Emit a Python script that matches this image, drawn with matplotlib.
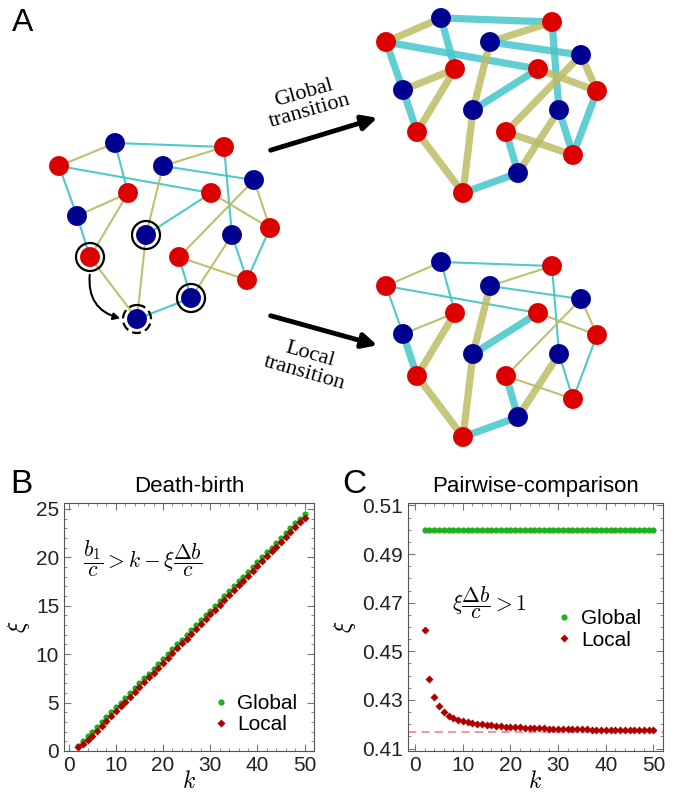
import numpy as np
import matplotlib.pyplot as plt
from matplotlib.patches import Circle, FancyArrowPatch

plt.rcParams['font.family'] = ['Liberation Sans', 'DejaVu Sans']
plt.rcParams['mathtext.fontset'] = 'cm'

# ---- panel A : network (pixel coordinates) ----
left_x = [115, 224, 59, 163, 254, 128, 211, 77, 270, 146, 232, 90, 179, 247, 191, 137]
left_y = [143, 147, 166, 166, 180, 193, 193, 216, 228, 235, 235, 257, 257, 280, 298, 319]
left_type = ['B', 'R', 'R', 'B', 'B', 'R', 'R', 'B', 'R', 'B', 'B', 'R', 'R', 'R', 'B', 'B']

right_x = [441, 552, 386, 490, 581, 455, 538, 403, 597, 473, 559, 417, 506, 573, 518, 463]
right_y = [18, 22, 42, 42, 55, 69, 69, 90, 91, 110, 110, 132, 132, 155, 173, 193]
right_type = ['B', 'R', 'R', 'B', 'B', 'R', 'R', 'B', 'R', 'B', 'B', 'R', 'R', 'R', 'B', 'R']
local_shift = 244

edges = [(2, 0), (0, 1), (1, 3), (2, 6), (3, 4), (0, 5), (2, 7), (7, 5), (7, 11),
         (5, 11), (3, 9), (9, 6), (1, 10), (6, 8), (4, 8), (4, 12), (10, 13), (8, 13),
         (12, 13), (12, 14), (10, 14), (14, 15), (11, 15), (9, 15)]
edge_kind = ['Y', 'C', 'Y', 'C', 'C', 'C', 'C', 'Y', 'C', 'Y', 'Y', 'C', 'C', 'Y',
             'Y', 'Y', 'C', 'C', 'Y', 'C', 'Y', 'C', 'Y', 'Y']
ringed = [9, 11, 14]
moved_to = 15
local_nodes = [9, 11, 14, 15]

# ---- panel B / C data ----
k = np.arange(2, 51)
db_global = [0.5, 1.0, 1.5, 2.0, 2.5, 3.0, 3.5, 4.0, 4.5, 5.0, 5.5, 6.0, 6.5, 7.0, 7.5,
             8.0, 8.5, 9.0, 9.5, 10.0, 10.5, 11.0, 11.5, 12.0, 12.5, 13.0, 13.5, 14.0,
             14.5, 15.0, 15.5, 16.0, 16.5, 17.0, 17.5, 18.0, 18.5, 19.0, 19.5, 20.0,
             20.5, 21.0, 21.5, 22.0, 22.5, 23.0, 23.5, 24.0, 24.5]
db_local = [0.45, 0.7, 1.1, 1.6, 2.1, 2.6, 3.1, 3.6, 4.1, 4.6, 5.1, 5.6, 6.1, 6.6, 7.1,
            7.6, 8.1, 8.6, 9.1, 9.6, 10.1, 10.6, 11.1, 11.6, 12.1, 12.6, 13.1, 13.6,
            14.1, 14.6, 15.1, 15.6, 16.1, 16.6, 17.1, 17.6, 18.1, 18.6, 19.1, 19.6,
            20.1, 20.6, 21.1, 21.6, 22.1, 22.6, 23.1, 23.6, 24.1]
pc_global = [0.5] * 49
pc_local = [0.4587, 0.4388, 0.4312, 0.4275, 0.4251, 0.4234, 0.4224, 0.4218, 0.4213,
            0.4209, 0.4205, 0.4202, 0.4199, 0.4197, 0.4195, 0.4193, 0.4191, 0.4190,
            0.4189, 0.4188, 0.4187, 0.4186, 0.4185, 0.4184, 0.4184, 0.4183, 0.4182,
            0.4182, 0.4181, 0.4181, 0.4180, 0.4180, 0.4179, 0.4179, 0.4179, 0.4178,
            0.4178, 0.4178, 0.4177, 0.4177, 0.4177, 0.4177, 0.4176, 0.4176, 0.4176,
            0.4176, 0.4176, 0.4175, 0.4175]
pc_limit = 0.4167

RED = '#dd0000'
BLUE = '#000090'
CYAN = '#45c6ca'
OLIVE = '#bcbc66'
GREEN = '#1fb01f'
DRED = '#b00000'


def draw_graph(ax, xs, ys, types, thick_nodes, all_thick=False):
    for (i, j), kind in zip(edges, edge_kind):
        thick = all_thick or (i in thick_nodes or j in thick_nodes)
        col = CYAN if kind == 'C' else OLIVE
        ax.plot([xs[i], xs[j]], [ys[i], ys[j]], color=col,
                lw=5.2 if thick else 1.5, alpha=0.85 if thick else 0.95,
                solid_capstyle='butt', zorder=1)
    cols = [RED if t == 'R' else BLUE for t in types]
    ax.scatter(xs, ys, s=205, c=cols, edgecolors='none', zorder=3)


fig = plt.figure(figsize=(6.75, 8), dpi=100)

axA = fig.add_axes([0, 0, 1, 1])
axA.set_xlim(0, 675)
axA.set_ylim(800, 0)
axA.axis('off')

draw_graph(axA, left_x, left_y, left_type, [])
for n in ringed:
    axA.add_patch(Circle((left_x[n], left_y[n]), 14, fill=False, ec='k', lw=1.6, zorder=4))
axA.add_patch(Circle((left_x[moved_to], left_y[moved_to]), 14, fill=False, ec='k',
                     lw=1.6, ls=(0, (4, 2)), zorder=4))
axA.add_patch(FancyArrowPatch((left_x[11], left_y[11] + 15),
                              (left_x[moved_to] - 14, left_y[moved_to]),
                              connectionstyle='arc3,rad=0.45', arrowstyle='-|>',
                              mutation_scale=10, lw=1.5, color='k', zorder=4))

draw_graph(axA, right_x, right_y, right_type, [], all_thick=True)
draw_graph(axA, right_x, [y + local_shift for y in right_y], right_type, local_nodes)

axA.annotate('', xy=(380, 117), xytext=(268, 151),
             arrowprops=dict(arrowstyle='-|>', lw=3.5, color='k', mutation_scale=22))
axA.annotate('', xy=(380, 346), xytext=(268, 315),
             arrowprops=dict(arrowstyle='-|>', lw=3.5, color='k', mutation_scale=22))
axA.text(307, 102, 'Global\ntransition', rotation=16, ha='center', va='center',
         family='Liberation Serif', fontsize=16, linespacing=1.0)
axA.text(307, 364, 'Local\ntransition', rotation=-16, ha='center', va='center',
         family='Liberation Serif', fontsize=16, linespacing=1.0)
axA.text(12, 8, 'A', fontsize=23, va='top')
axA.text(10, 469, 'B', fontsize=24, va='top')
axA.text(342, 469, 'C', fontsize=24, va='top')


def style(ax):
    for sp in ax.spines.values():
        sp.set_color('#555555')
    ax.tick_params(which='both', direction='in', top=True, right=True,
                   colors='#777777', labelcolor='#222222', labelsize=15)
    ax.tick_params(which='major', length=5)
    ax.tick_params(which='minor', length=2.5)
    ax.set_xlabel(r'$k$', fontsize=17, labelpad=-3)
    ax.set_ylabel(r'$\xi$', fontsize=17, labelpad=3)


axB = fig.add_axes([64 / 675, 49 / 800, 250 / 675, 248 / 800])
axB.plot(k, db_global, 'o', color=GREEN, ms=4.5, mec='none', label='Global')
axB.plot(k, db_local, 'D', color=DRED, ms=4, mec='none', label='Local')
axB.set_xlim(-1, 52)
axB.set_ylim(0, 25.6)
axB.set_xticks([0, 10, 20, 30, 40, 50])
axB.set_xticks(np.arange(0, 51, 2), minor=True)
axB.set_yticks([0, 5, 10, 15, 20, 25])
axB.set_yticks(np.arange(0, 26, 1), minor=True)
style(axB)
axB.set_title('Death-birth', fontsize=16, pad=8)
axB.text(3, 19.8, r'$\dfrac{b_1}{c} > k - \xi\dfrac{\Delta b}{c}$', fontsize=15.5, va='center')
axB.legend(loc='lower right', bbox_to_anchor=(1.0, 0.0), frameon=False, fontsize=15,
           handletextpad=0.3, handlelength=1.0, borderpad=0.3, labelspacing=0.1)

axC = fig.add_axes([408 / 675, 49 / 800, 255 / 675, 248 / 800])
axC.axhline(pc_limit, color='#e88a8a', lw=1.2, ls=(0, (5, 3)), zorder=1)
axC.plot(k, pc_global, 'o', color=GREEN, ms=4.5, mec='none', label='Global')
axC.plot(k, pc_local, 'D', color=DRED, ms=4, mec='none', label='Local')
axC.set_xlim(-1.5, 52)
axC.set_ylim(0.409, 0.511)
axC.set_xticks([0, 10, 20, 30, 40, 50])
axC.set_xticks(np.arange(0, 51, 2), minor=True)
axC.set_yticks([0.41, 0.43, 0.45, 0.47, 0.49, 0.51])
axC.set_yticklabels(['0.41', '0.43', '0.45', '0.47', '0.49', '0.51'])
axC.set_yticks(np.arange(0.41, 0.5101, 0.005), minor=True)
style(axC)
axC.set_title('Pairwise-comparison', fontsize=16, pad=8)
axC.text(7.7, 0.4699, r'$\xi\dfrac{\Delta b}{c} > 1$', fontsize=15.5, va='center')
axC.legend(loc='center right', bbox_to_anchor=(0.98, 0.49), frameon=False, fontsize=15,
           handletextpad=0.3, handlelength=1.0, borderpad=0.3, labelspacing=0.1)

fig.savefig('out.png', dpi=100)
